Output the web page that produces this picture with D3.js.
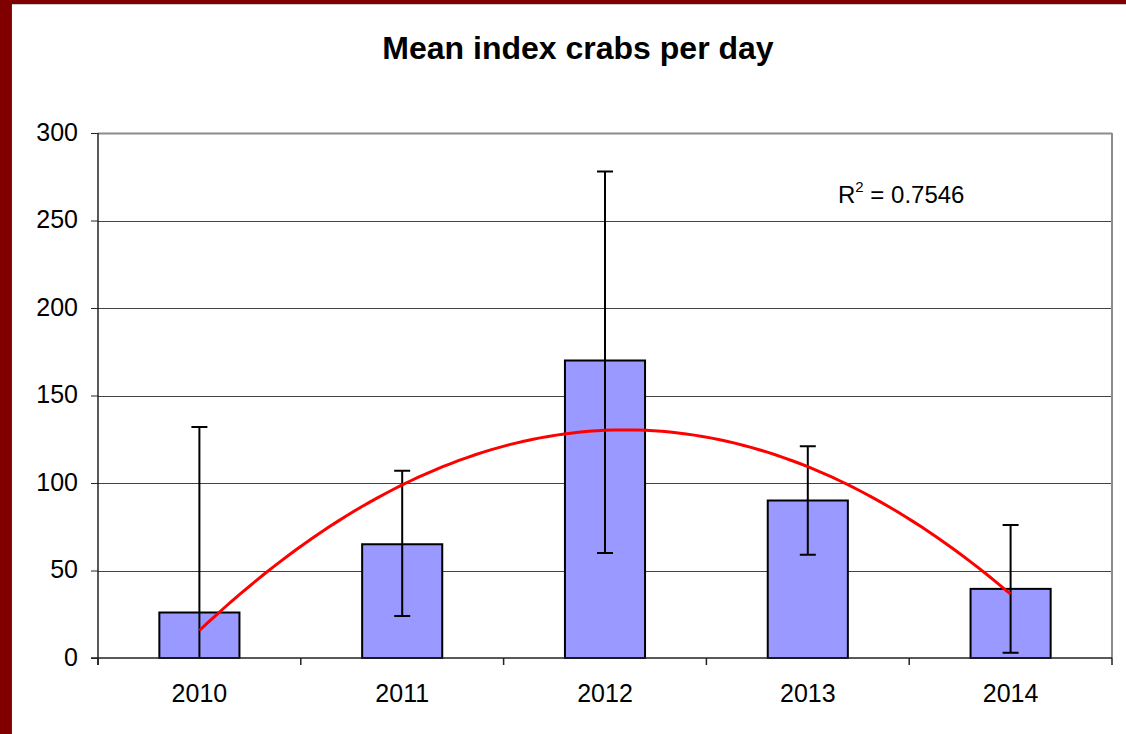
<!DOCTYPE html>
<html>
<head>
<meta charset="utf-8">
<script src="https://cdn.jsdelivr.net/npm/d3@7"></script>
<style>
  body { margin: 0; background: #fff; }
  svg { display: block; font-family: "Liberation Sans", Arial, sans-serif; }
</style>
</head>
<body>
<div class="plot"></div>
<script>
//DATA
let years = ["2010", "2011", "2012", "2013", "2014"];
let meanCrabs = [26, 65, 170, 90, 39.5];
let errLow = [0, 24, 60, 59, 3];
let errHigh = [132, 107, 278, 121, 76];
let yTicks = [0, 50, 100, 150, 200, 250, 300];
let rSquaredText = "0.7546";

//GENERAL VARIABLE INITIALIZATION
let w = 1126;
let h = 734;
let paddingLeft = 98;
let paddingRight = 14;
let paddingTop = 133;
let paddingBottom = 76;
let labelSize = 25;

let svg = d3.select(".plot").append("svg")
    .attr("width", w)
    .attr("height", h);

// frame (dark red border on left and top)
svg.append("rect").attr("x", 0).attr("y", 0).attr("width", w).attr("height", 4).attr("fill", "#800000");
svg.append("rect").attr("x", 0).attr("y", 0).attr("width", 11).attr("height", h).attr("fill", "#800000");
svg.append("line").attr("x1", 11).attr("x2", w).attr("y1", 4.5).attr("y2", 4.5).attr("stroke", "#c8ccd0");
svg.append("line").attr("x1", 11.5).attr("x2", 11.5).attr("y1", 4).attr("y2", h).attr("stroke", "#333");

// title
svg.append("text")
    .attr("x", 578)
    .attr("y", 59)
    .attr("text-anchor", "middle")
    .attr("font-size", 32)
    .attr("font-weight", "bold")
    .text("Mean index crabs per day");

// scales
let xScale = d3.scaleBand()
    .domain(years)
    .range([paddingLeft, w - paddingRight]);

let yScale = d3.scaleLinear()
    .domain([0, 300])
    .range([h - paddingBottom, paddingTop]);

let barWidth = xScale.bandwidth() * 0.395;

// gridlines
svg.append("g")
    .selectAll("line")
    .data(yTicks.slice(1))
    .enter()
    .append("line")
    .attr("x1", paddingLeft)
    .attr("x2", w - paddingRight)
    .attr("y1", d => Math.round(yScale(d)) + 0.5)
    .attr("y2", d => Math.round(yScale(d)) + 0.5)
    .attr("stroke", d => d === 300 ? "#8c8c8c" : "#444")
    .attr("stroke-width", d => d === 300 ? 2 : 1);

// right border of plot area
svg.append("line")
    .attr("x1", w - paddingRight)
    .attr("x2", w - paddingRight)
    .attr("y1", paddingTop)
    .attr("y2", h - paddingBottom)
    .attr("stroke", "#8c8c8c")
    .attr("stroke-width", 2);

// bars
svg.append("g")
    .selectAll("rect")
    .data(meanCrabs)
    .enter()
    .append("rect")
    .attr("x", (d, i) => xScale(years[i]) + xScale.bandwidth() / 2 - barWidth / 2)
    .attr("y", d => yScale(d))
    .attr("width", barWidth)
    .attr("height", d => yScale(0) - yScale(d))
    .attr("fill", "#9999ff")
    .attr("stroke", "#000")
    .attr("stroke-width", 2);

// error bars
let errGroup = svg.append("g");
years.forEach(function(yr, i) {
  let cx = xScale(yr) + xScale.bandwidth() / 2;
  errGroup.append("line")
      .attr("x1", cx).attr("x2", cx)
      .attr("y1", yScale(errHigh[i])).attr("y2", yScale(errLow[i]))
      .attr("stroke", "#000").attr("stroke-width", 2);
  [errHigh[i], errLow[i]].forEach(function(v) {
    if (v <= 0) return;
    errGroup.append("line")
        .attr("x1", cx - 8).attr("x2", cx + 8)
        .attr("y1", yScale(v)).attr("y2", yScale(v))
        .attr("stroke", "#000").attr("stroke-width", 2);
  });
});

// polynomial (order 2) trendline fitted to the means
let n = meanCrabs.length;
let ts = meanCrabs.map((d, i) => i - (n - 1) / 2);
let sumY = d3.sum(meanCrabs);
let sumTY = d3.sum(meanCrabs, (d, i) => ts[i] * d);
let sumT2Y = d3.sum(meanCrabs, (d, i) => ts[i] * ts[i] * d);
let sumT2 = d3.sum(ts, t => t * t);
let sumT4 = d3.sum(ts, t => t * t * t * t);
let coefB = sumTY / sumT2;
let coefC = (n * sumT2Y - sumT2 * sumY) / (n * sumT4 - sumT2 * sumT2);
let coefA = (sumY - coefC * sumT2) / n;

let trendPts = d3.range(0, 101).map(function(k) {
  let t = -(n - 1) / 2 + (n - 1) * k / 100;
  return [t, coefA + coefB * t + coefC * t * t];
});
let step = xScale.step();
let x0 = xScale(years[0]) + xScale.bandwidth() / 2;
let trendLine = d3.line()
    .x(d => x0 + (d[0] + (n - 1) / 2) * step)
    .y(d => yScale(d[1]))
    .curve(d3.curveLinear);

svg.append("path")
    .datum(trendPts)
    .attr("d", trendLine)
    .attr("fill", "none")
    .attr("stroke", "#ff0000")
    .attr("stroke-width", 3)
    .attr("stroke-linejoin", "round");

// R squared label
let rText = svg.append("text")
    .attr("x", 838)
    .attr("y", 203)
    .attr("font-size", 24);
rText.append("tspan").text("R");
rText.append("tspan").attr("font-size", 15).attr("dy", -11).text("2");
rText.append("tspan").attr("dy", 11).text(" = " + rSquaredText);

// axes
let yAxis = d3.axisLeft(yScale)
    .tickValues(yTicks)
    .tickSize(7)
    .tickPadding(13);
let gy = svg.append("g")
    .attr("transform", "translate(" + paddingLeft + ",0)")
    .call(yAxis);
gy.select(".domain").attr("stroke", "#222").attr("stroke-width", 1.5)
    .attr("d", "M0," + paddingTop + "V" + (h - paddingBottom + 7));
gy.selectAll("line").attr("stroke", "#222");
gy.selectAll("text").attr("font-size", labelSize).attr("font-family", "Liberation Sans, Arial, sans-serif").attr("fill", "#000")
    .attr("dy", "0.28em");

let xAxis = d3.axisBottom(xScale)
    .tickSize(0)
    .tickPadding(26);
let gx = svg.append("g")
    .attr("transform", "translate(0," + (h - paddingBottom) + ")")
    .call(xAxis);
gx.select(".domain").attr("stroke", "#222").attr("stroke-width", 1.5)
    .attr("d", "M" + (paddingLeft - 7) + ",0H" + (w - paddingRight));
gx.selectAll("text").attr("font-size", labelSize).attr("font-family", "Liberation Sans, Arial, sans-serif").attr("fill", "#000");

// category boundary ticks
gx.append("g")
    .selectAll("line")
    .data(years.concat(["end"]))
    .enter()
    .append("line")
    .attr("x1", (d, i) => i < n ? xScale(d) : w - paddingRight)
    .attr("x2", (d, i) => i < n ? xScale(d) : w - paddingRight)
    .attr("y1", 0)
    .attr("y2", 7)
    .attr("stroke", "#222")
    .attr("stroke-width", 1.5);
</script>
</body>
</html>
